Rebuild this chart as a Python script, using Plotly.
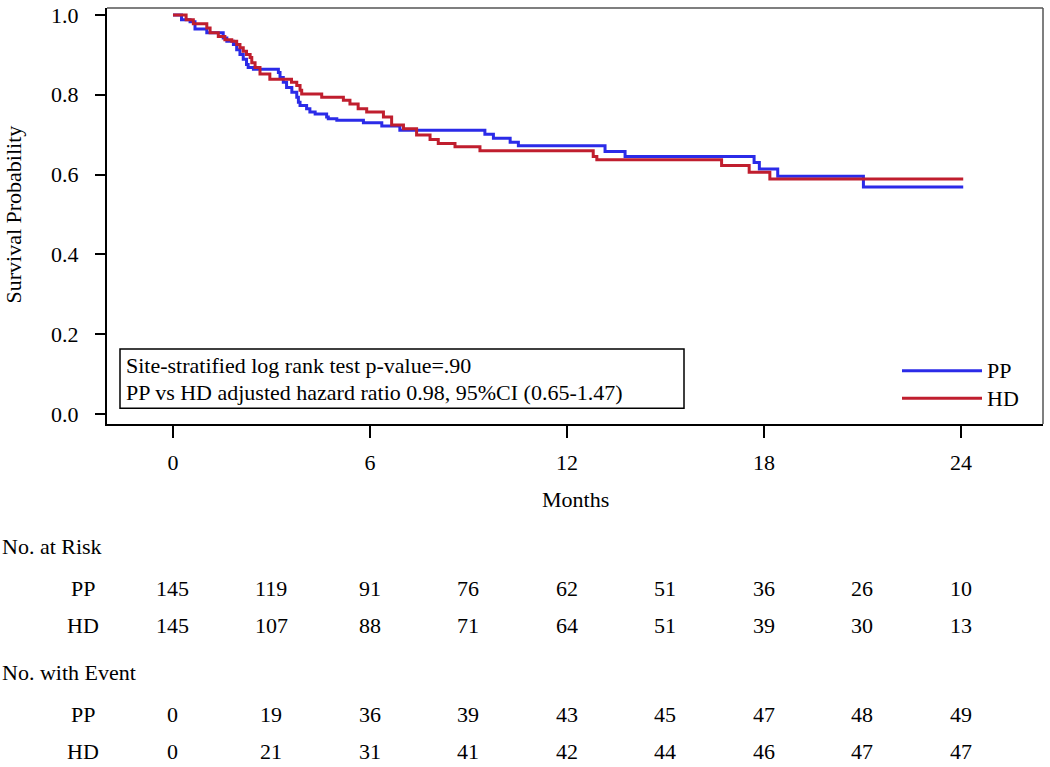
import plotly.graph_objects as go

# Kaplan-Meier step points (months, survival)
pp_t = [0, 0.26, 0.52, 0.67, 1.03, 1.53, 1.64, 1.84, 1.94, 2.04, 2.14, 2.24, 2.29, 2.45,
        3.21, 3.26, 3.36, 3.46, 3.62, 3.77, 3.82, 3.87, 4.07, 4.17, 4.33, 4.68, 4.73,
        4.99, 5.80, 6.36, 6.91, 9.50, 9.76, 10.27, 10.52, 13.16, 13.77, 17.70, 17.86,
        18.42, 21.03, 24.07]
pp_s = [1.0, 0.988, 0.983, 0.965, 0.955, 0.942, 0.934, 0.926, 0.913, 0.901, 0.889, 0.876,
        0.868, 0.864, 0.856, 0.843, 0.831, 0.818, 0.806, 0.794, 0.781, 0.773, 0.765,
        0.757, 0.752, 0.744, 0.740, 0.736, 0.730, 0.722, 0.711, 0.701, 0.691, 0.681,
        0.672, 0.658, 0.645, 0.630, 0.614, 0.596, 0.569, 0.569]

hd_t = [0, 0.40, 0.62, 1.03, 1.13, 1.38, 1.58, 1.79, 1.94, 2.04, 2.14, 2.24, 2.35, 2.40,
        2.50, 2.65, 2.95, 3.61, 3.77, 3.87, 3.92, 4.53, 5.19, 5.39, 5.64, 5.90, 6.41,
        6.66, 7.02, 7.42, 7.83, 8.08, 8.59, 9.35, 12.80, 12.91, 16.71, 17.55, 18.18, 24.07]
hd_s = [1.0, 0.988, 0.978, 0.967, 0.955, 0.946, 0.938, 0.934, 0.926, 0.918, 0.909, 0.901,
        0.893, 0.880, 0.868, 0.852, 0.839, 0.831, 0.823, 0.811, 0.802, 0.794, 0.786,
        0.777, 0.765, 0.757, 0.744, 0.724, 0.715, 0.699, 0.688, 0.678, 0.670, 0.660,
        0.645, 0.637, 0.623, 0.606, 0.589, 0.589]

table_months = [0, 3, 6, 9, 12, 15, 18, 21, 24]
pp_at_risk = [145, 119, 91, 76, 62, 51, 36, 26, 10]
hd_at_risk = [145, 107, 88, 71, 64, 51, 39, 30, 13]
pp_events = [0, 19, 36, 39, 43, 45, 47, 48, 49]
hd_events = [0, 21, 31, 41, 42, 44, 46, 47, 47]

x_ticks = [0, 6, 12, 18, 24]
y_ticks = [0.0, 0.2, 0.4, 0.6, 0.8, 1.0]

BLUE = "#2B2BE8"
RED = "#C01E2E"
FONT = "Liberation Serif"
FS = 22

W, H = 1050, 767
ML, MR, MT, MB = 107, 7, 3, 343
PW, PH = W - ML - MR, H - MT - MB


def px(x):
    return (x - ML) / PW


def py(y):
    return (H - MB - y) / PH


fig = go.Figure()
fig.add_trace(go.Scatter(x=pp_t, y=pp_s, mode="lines", line=dict(color=BLUE, width=3, shape="hv"),
                         name="PP", showlegend=False))
fig.add_trace(go.Scatter(x=hd_t, y=hd_s, mode="lines", line=dict(color=RED, width=3, shape="hv"),
                         name="HD", showlegend=False))

ann = []
shapes = []

# frame top/right
shapes.append(dict(type="line", xref="paper", yref="paper", x0=0, x1=1, y0=1, y1=1,
                   line=dict(color="#555", width=1.5)))
shapes.append(dict(type="line", xref="paper", yref="paper", x0=1, x1=1, y0=0, y1=1,
                   line=dict(color="#555", width=1.5)))

# stats box
shapes.append(dict(type="rect", xref="paper", yref="paper", x0=px(120), x1=px(684),
                   y0=py(408), y1=py(348), line=dict(color="black", width=1.5)))
ann.append(dict(text="Site-stratified log rank test p-value=.90", x=px(124), y=py(365),
                xanchor="left", yanchor="middle"))
ann.append(dict(text="PP vs HD adjusted hazard ratio 0.98, 95%CI (0.65-1.47)", x=px(124), y=py(392),
                xanchor="left", yanchor="middle"))

# legend drawn by hand (long line samples)
for name, col, yy in [("PP", BLUE, 370), ("HD", RED, 398)]:
    shapes.append(dict(type="line", xref="paper", yref="paper", x0=px(902), x1=px(982),
                       y0=py(yy), y1=py(yy), line=dict(color=col, width=3)))
    ann.append(dict(text=name, x=px(985), y=py(yy), xanchor="left", yanchor="middle"))

# axis titles
ann.append(dict(text="Months", x=px(575), y=py(500), xanchor="center", yanchor="middle"))
ann.append(dict(text="Survival Probability", x=px(14), y=py(212), xanchor="center",
                yanchor="middle", textangle=-90))

# risk table
ann.append(dict(text="No. at Risk", x=px(0), y=py(548), xanchor="left", yanchor="middle"))
ann.append(dict(text="No. with Event", x=px(0), y=py(675), xanchor="left", yanchor="middle"))
rows = [("PP", pp_at_risk, 590), ("HD", hd_at_risk, 628),
        ("PP", pp_events, 718), ("HD", hd_events, 755)]
for lab, vals, yy in rows:
    ann.append(dict(text=lab, x=px(83), y=py(yy), xanchor="center", yanchor="middle"))
    for m, v in zip(table_months, vals):
        ann.append(dict(text=str(v), x=m, xref="x", y=py(yy), xanchor="center", yanchor="middle"))

for a in ann:
    a.setdefault("xref", "paper")
    a["yref"] = "paper"
    a["showarrow"] = False
    a["font"] = dict(family=FONT, size=FS, color="black")

fig.update_layout(
    width=W, height=H,
    margin=dict(l=ML, r=MR, t=MT, b=MB),
    paper_bgcolor="white", plot_bgcolor="white",
    font=dict(family=FONT, size=FS, color="black"),
    annotations=ann, shapes=shapes,
    xaxis=dict(range=[-2.01, 26.5], tickvals=x_ticks, ticktext=[str(v) for v in x_ticks],
               showgrid=False, zeroline=False, showline=True, linecolor="black", linewidth=2,
               ticks="outside", ticklen=12, tickwidth=1.5, tickcolor="black",
               ticklabelstandoff=6, tickfont=dict(family=FONT, size=FS)),
    yaxis=dict(range=[-0.0248, 1.0173], tickvals=y_ticks, ticktext=["%.1f" % v for v in y_ticks],
               showgrid=False, zeroline=False, showline=True, linecolor="black", linewidth=2,
               ticks="outside", ticklen=10, tickwidth=1.5, tickcolor="black",
               ticklabelstandoff=12, ticklabeloverflow="allow",
               tickfont=dict(family=FONT, size=FS)),
)

# the page body has a default 8px margin; drop it so the figure sits at the window corner
fig.write_html("out.html", config={"displayModeBar": False},
               post_script="document.body.style.margin='0';")
